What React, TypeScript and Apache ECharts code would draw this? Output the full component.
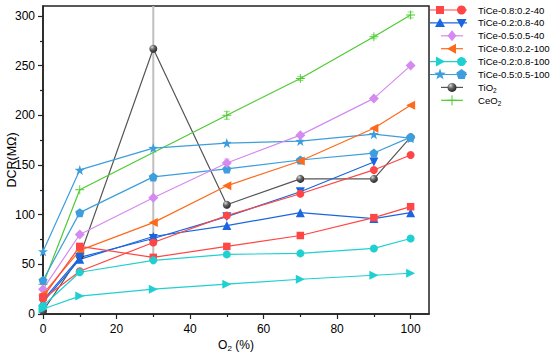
import React, { useEffect, useRef } from "react";
import * as echarts from "echarts";

// ---- data ----
const X_VALUES = [0, 10, 30, 50, 70, 90, 100];
const X_CEO2 = [0, 10, 50, 70, 90, 100];

const TICE_082_40_SQ = [17, 68, 57, 68, 79, 97, 108];
const TICE_082_40_CI = [15, 43, 72, 99, 121, 145, 160];
const TICE_028_40_UP = [12, 55, 78, 89, 102, 96, 102];
const TICE_028_40_DN = [14, 57, 76, 98, 123, 153];
const TICE_055_40 = [25, 80, 117, 152, 180, 217, 250];
const TICE_082_100 = [20, 64, 92, 129, 154, 187, 210];
const TICE_028_100_TRI = [5, 18, 25, 30, 35, 39, 41];
const TICE_028_100_CI = [8, 42, 54, 60, 61, 66, 76];
const TICE_055_100_STAR = [63, 145, 167, 172, 174, 181, 177];
const TICE_055_100_PENT = [34, 102, 138, 146, 155, 162, 178];
const TIO2 = [3, 58, 267, 110, 136, 136, 178];
const CEO2 = [30, 125, 200, 237, 279, 301];

const TIO2_ERR = [0, 0, 213, 0, 0, 0, 0];
const CEO2_ERR = [0, 0, 4, 2, 2, 3];
const TICE_055_40_ERR = [0, 0, 0, 4, 0, 0, 0];

const LEGEND_LABELS = [
  "TiCe-0.8:0.2-40",
  "TiCe-0.2:0.8-40",
  "TiCe-0.5:0.5-40",
  "TiCe-0.8:0.2-100",
  "TiCe-0.2:0.8-100",
  "TiCe-0.5:0.5-100",
  "TiO{s|2}",
  "CeO{s|2}",
];

const Y_TICKS = [0, 50, 100, 150, 200, 250, 300];
const X_TICKS = [0, 20, 40, 60, 80, 100];
const Y_MAX = 310;
const X_MAX = 105;

// ---- style ----
const FONT = "'Liberation Sans', Arial, sans-serif";
const RED = "#FF4646";
const BLUE = "#1A66E0";
const VIOLET = "#D58AF0";
const ORANGE = "#FF6A1A";
const CYAN = "#20D0D0";
const LBLUE = "#3C9EDC";
const GREY = "#555555";
const GREEN = "#4DCB32";

const STAR_PATH =
  "path://M0,-10 L2.35,-3.24 L9.51,-3.09 L3.8,1.24 L5.88,8.09 L0,4 L-5.88,8.09 L-3.8,1.24 L-9.51,-3.09 L-2.35,-3.24 Z";
const PENT_PATH = "path://M0,-10 L9.51,-3.09 L5.88,8.09 L-5.88,8.09 L-9.51,-3.09 Z";
const PLUS_PATH =
  "path://M-0.1,-1H0.1V-0.1H1V0.1H0.1V1H-0.1V0.1H-1V-0.1H-0.1Z";
const DOWN_PATH = "path://M-1,-1 L1,-1 L0,1 Z";
const LEFT_PATH = "path://M-1,0 L1,-1 L1,1 Z";
const RIGHT_PATH = "path://M1,0 L-1,-1 L-1,1 Z";

function sphere() {
  return new echarts.graphic.RadialGradient(0.35, 0.3, 0.7, [
    { offset: 0, color: "#d8d8d8" },
    { offset: 0.45, color: "#666666" },
    { offset: 1, color: "#2a2a2a" },
  ]);
}

function pairs(xs: number[], ys: number[]) {
  return ys.map((y, i) => [xs[i], y]);
}

function errData(xs: number[], ys: number[], errs: number[]) {
  return ys
    .map((y, i) => [xs[i], y - errs[i], y + errs[i], errs[i]])
    .filter((d) => d[3] > 0);
}

function lineSeries(
  name: string,
  xs: number[],
  ys: number[],
  color: string,
  symbol: string,
  size: number,
  itemColor?: any
) {
  return {
    type: "line",
    name,
    data: pairs(xs, ys),
    symbol,
    symbolSize: size,
    showAllSymbol: true,
    lineStyle: { color, width: 1.2 },
    itemStyle: { color: itemColor || color, borderWidth: 0 },
    z: 3,
    silent: true,
  };
}

function errSeries(data: number[][], color: string, cap: number, width: number) {
  return {
    type: "custom",
    data,
    encode: { x: 0, y: [1, 2] },
    z: 1,
    silent: true,
    renderItem: (params: any, api: any) => {
      const x = api.value(0);
      const lo = Math.max(0, api.value(1));
      const hi = Math.min(Y_MAX, api.value(2));
      const p1 = api.coord([x, lo]);
      const p2 = api.coord([x, hi]);
      const st = { stroke: color, lineWidth: width };
      const children: any[] = [
        { type: "line", shape: { x1: p1[0], y1: p1[1], x2: p2[0], y2: p2[1] }, style: st },
      ];
      if (cap > 0) {
        children.push(
          { type: "line", shape: { x1: p1[0] - cap, y1: p1[1], x2: p1[0] + cap, y2: p1[1] }, style: st },
          { type: "line", shape: { x1: p2[0] - cap, y1: p2[1], x2: p2[0] + cap, y2: p2[1] }, style: st }
        );
      }
      return { type: "group", children };
    },
  };
}

// legend helpers (layout only)
function starPoints(cx: number, cy: number, r: number) {
  const pts: number[][] = [];
  for (let i = 0; i < 10; i++) {
    const a = -Math.PI / 2 + (i * Math.PI) / 5;
    const rr = i % 2 === 0 ? r : r * 0.42;
    pts.push([cx + rr * Math.cos(a), cy + rr * Math.sin(a)]);
  }
  return pts;
}
function pentPoints(cx: number, cy: number, r: number) {
  const pts: number[][] = [];
  for (let i = 0; i < 5; i++) {
    const a = -Math.PI / 2 + (i * 2 * Math.PI) / 5;
    pts.push([cx + r * Math.cos(a), cy + r * Math.sin(a)]);
  }
  return pts;
}

function marker(kind: string, cx: number, cy: number, color: string): any {
  switch (kind) {
    case "square":
      return { type: "rect", shape: { x: cx - 4, y: cy - 4, width: 8, height: 8 }, style: { fill: color } };
    case "circle":
      return { type: "circle", shape: { cx, cy, r: 4.5 }, style: { fill: color } };
    case "up":
      return { type: "polygon", shape: { points: [[cx, cy - 5], [cx + 5, cy + 4], [cx - 5, cy + 4]] }, style: { fill: color } };
    case "down":
      return { type: "polygon", shape: { points: [[cx - 5, cy - 4], [cx + 5, cy - 4], [cx, cy + 5]] }, style: { fill: color } };
    case "left":
      return { type: "polygon", shape: { points: [[cx - 5, cy], [cx + 4, cy - 5], [cx + 4, cy + 5]] }, style: { fill: color } };
    case "right":
      return { type: "polygon", shape: { points: [[cx + 5, cy], [cx - 4, cy - 5], [cx - 4, cy + 5]] }, style: { fill: color } };
    case "diamond":
      return { type: "polygon", shape: { points: [[cx, cy - 5.5], [cx + 4.5, cy], [cx, cy + 5.5], [cx - 4.5, cy]] }, style: { fill: color } };
    case "star":
      return { type: "polygon", shape: { points: starPoints(cx, cy, 6) }, style: { fill: color } };
    case "pent":
      return { type: "polygon", shape: { points: pentPoints(cx, cy, 5.5) }, style: { fill: color } };
    case "sphere":
      return { type: "circle", shape: { cx, cy, r: 4.5 }, style: { fill: sphere() } };
    case "plus":
      return {
        type: "group",
        children: [
          { type: "line", shape: { x1: cx - 5, y1: cy, x2: cx + 5, y2: cy }, style: { stroke: color, lineWidth: 1 } },
          { type: "line", shape: { x1: cx, y1: cy - 5, x2: cx, y2: cy + 5 }, style: { stroke: color, lineWidth: 1 } },
        ],
      };
  }
  return null;
}

const LEGEND_STYLE = [
  { color: RED, m: ["square", "circle"] },
  { color: BLUE, m: ["up", "down"] },
  { color: VIOLET, m: ["diamond"] },
  { color: ORANGE, m: ["left"] },
  { color: CYAN, m: ["right", "circle"] },
  { color: LBLUE, m: ["star", "pent"] },
  { color: GREY, m: ["sphere"] },
  { color: GREEN, m: ["plus"] },
];

function buildLegend() {
  const els: any[] = [];
  LEGEND_LABELS.forEach((label, i) => {
    const cy = 10 + i * 12.9;
    const st = LEGEND_STYLE[i];
    if (st.m.length === 2) {
      els.push({ type: "line", shape: { x1: 430, y1: cy, x2: 467, y2: cy }, style: { stroke: st.color, lineWidth: 1.2 } });
      els.push(marker(st.m[0], 440, cy, st.color));
      els.push(marker(st.m[1], 461.5, cy, st.color));
    } else {
      els.push({ type: "line", shape: { x1: 441, y1: cy, x2: 463, y2: cy }, style: { stroke: st.color, lineWidth: 1.2 } });
      els.push(marker(st.m[0], 452, cy, st.color));
    }
    els.push({
      type: "text",
      x: 478,
      y: cy,
      style: {
        text: label,
        fontSize: 9.6,
        fontFamily: FONT,
        fill: "#000",
        verticalAlign: "middle",
        align: "left",
        rich: { s: { fontSize: 6.5, fontFamily: FONT, padding: [6, 0, 0, 0] } },
      },
    });
  });
  return els;
}

export default function App() {
  const ref = useRef<HTMLDivElement>(null);
  useEffect(() => {
    if (!ref.current) return;
    const chart = echarts.init(ref.current, undefined, { renderer: "svg" });
    const axisCommon = {
      axisLine: { show: true, lineStyle: { color: "#222", width: 1.5 } },
      splitLine: { show: false },
      axisTick: { show: true, inside: false, length: 5, lineStyle: { color: "#222", width: 1.2 } },
      minorTick: { show: true, splitNumber: 2, length: 3, lineStyle: { color: "#222", width: 1.2 } },
      axisLabel: { color: "#000", fontSize: 12, fontFamily: FONT },
    };
    const option: any = {
      animation: false,
      textStyle: { fontFamily: FONT },
      grid: {
        left: 43,
        right: 121,
        top: 6,
        bottom: 42,
        containLabel: false,
        outerBoundsMode: "none",
        show: true,
        borderColor: "#222",
        borderWidth: 1.5,
        backgroundColor: "transparent",
      },
      xAxis: {
        type: "value",
        min: 0,
        max: X_MAX,
        interval: 20,
        ...axisCommon,
        axisTick: { ...axisCommon.axisTick, customValues: X_TICKS },
        axisLabel: { ...axisCommon.axisLabel, margin: 9, customValues: X_TICKS },
        name: "O{s|2} (%)",
        nameLocation: "middle",
        nameGap: 23,
        nameMoveOverlap: false,
        nameTextStyle: {
          color: "#000",
          fontSize: 12,
          fontFamily: FONT,
          rich: { s: { fontSize: 8, fontFamily: FONT, padding: [7, 0, 0, 0] } },
        },
      },
      yAxis: {
        type: "value",
        min: 0,
        max: Y_MAX,
        interval: 50,
        ...axisCommon,
        axisTick: { ...axisCommon.axisTick, customValues: Y_TICKS },
        axisLabel: { ...axisCommon.axisLabel, margin: 8, customValues: Y_TICKS },
        name: "DCR(MΩ)",
        nameLocation: "middle",
        nameGap: 25,
        nameMoveOverlap: false,
        nameTextStyle: { color: "#000", fontSize: 12.5, fontFamily: FONT },
      },
      graphic: buildLegend(),
      series: [
        errSeries(errData(X_VALUES, TIO2, TIO2_ERR), "#BFBFBF", 0, 2),
        errSeries(errData(X_CEO2, CEO2, CEO2_ERR), "#8EE07A", 3, 1),
        errSeries(errData(X_VALUES, TICE_055_40, TICE_055_40_ERR), "#E6B8F5", 3, 1),
        lineSeries("TiO2", X_VALUES, TIO2, GREY, "circle", 8, sphere()),
        lineSeries("CeO2", X_CEO2, CEO2, GREEN, PLUS_PATH, 9),
        lineSeries("TiCe-0.5:0.5-100 star", X_VALUES, TICE_055_100_STAR, LBLUE, STAR_PATH, 10),
        lineSeries("TiCe-0.5:0.5-100 pent", X_VALUES, TICE_055_100_PENT, LBLUE, PENT_PATH, 9),
        lineSeries("TiCe-0.5:0.5-40", X_VALUES, TICE_055_40, VIOLET, "diamond", 10),
        lineSeries("TiCe-0.8:0.2-100", X_VALUES, TICE_082_100, ORANGE, LEFT_PATH, 9),
        lineSeries("TiCe-0.2:0.8-40 up", X_VALUES, TICE_028_40_UP, BLUE, "triangle", 9),
        lineSeries("TiCe-0.2:0.8-40 down", X_VALUES, TICE_028_40_DN, BLUE, DOWN_PATH, 9),
        lineSeries("TiCe-0.8:0.2-40 sq", X_VALUES, TICE_082_40_SQ, RED, "rect", 7.5),
        lineSeries("TiCe-0.8:0.2-40 ci", X_VALUES, TICE_082_40_CI, RED, "circle", 8),
        lineSeries("TiCe-0.2:0.8-100 ci", X_VALUES, TICE_028_100_CI, CYAN, "circle", 8),
        lineSeries("TiCe-0.2:0.8-100 tri", X_VALUES, TICE_028_100_TRI, CYAN, RIGHT_PATH, 9),
      ],
    };
    chart.setOption(option);
    return () => chart.dispose();
  }, []);
  return (
    <div
      ref={ref}
      style={{ position: "fixed", left: 0, top: 0, width: 550, height: 356, background: "#fff" }}
    />
  );
}
